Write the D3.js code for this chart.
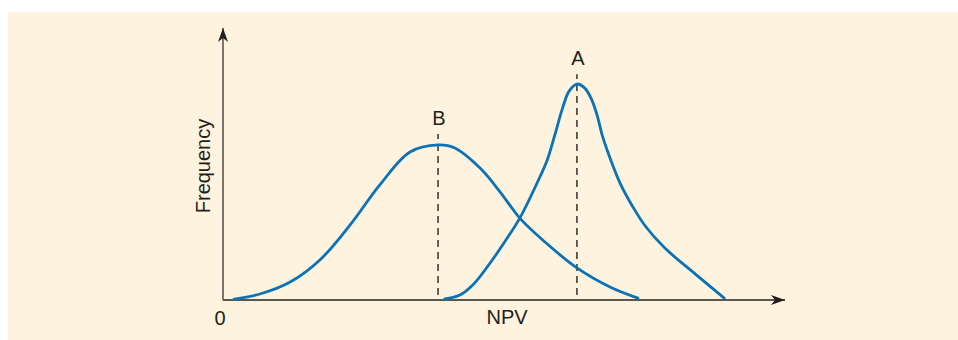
<!DOCTYPE html>
<html>
<head>
<meta charset="utf-8">
<script src="https://cdn.jsdelivr.net/npm/d3@7"></script>
<style>
  body { margin: 0; background: #ffffff; }
  svg { display: block; }
  text { font-family: "Liberation Sans", Arial, Helvetica, sans-serif; fill: #231f20; }
</style>
</head>
<body>
<div id="chart-area"></div>
<script>
// values (x: NPV 0..100, y: frequency 0..100)
var bNpv  = [2.0, 6.6, 12.0, 17.3, 22.7, 28.0, 33.4, 38.4, 41.4, 45.9, 49.5, 53.0, 57.5, 63.2, 69.1, 74.1];
var bFreq = [0.3, 2.2, 6.6, 14.7, 27.6, 42.3, 54.4, 57.0, 55.9, 48.5, 39.7, 30.1, 21.3, 11.8, 4.8, 0.7];

var aNpv  = [39.6, 42.3, 44.6, 47.7, 50.4, 53.0, 56.25, 57.9, 59.3, 60.7, 61.8, 63.2, 64.6, 65.7, 66.8, 67.7, 68.6, 70.9, 73.2, 75.4, 78.9, 84.3, 89.5];
var aFreq = [0.4, 1.8, 5.5, 13.6, 21.7, 30.1, 43.75, 51.5, 61.0, 71.0, 76.8, 79.4, 77.9, 74.3, 68.0, 60.7, 55.1, 43.0, 34.2, 27.2, 19.1, 9.6, 0.7];

var peakNames = ["B", "A"];
var peakNpv   = [38.4, 63.2];
var peakTop   = [61, 83];   // where the dashed line stops

var xTitle = "NPV";
var yTitle = "Frequency";
var originLabel = "0";

var width = 958, height = 340;

var svg = d3.select("#chart-area").append("svg").attr("width", width).attr("height", height);

svg.append("rect").attr("x", 8).attr("y", 12).attr("width", width - 8).attr("height", height - 12)
   .attr("fill", "#fdf3de");

var x = d3.scaleLinear().domain([0, 100]).range([223, 783]);
var y = d3.scaleLinear().domain([0, 100]).range([300, 28]);

var defs = svg.append("defs");
defs.append("marker").attr("id", "arrow").attr("viewBox", "0 0 14 10")
    .attr("refX", 14).attr("refY", 5).attr("markerWidth", 14).attr("markerHeight", 10)
    .attr("markerUnits", "userSpaceOnUse").attr("orient", "auto")
    .append("path").attr("d", "M0,0 L14,5 L0,10 L4,5 Z").attr("fill", "#231f20");

var axisColor = "#5b5650";

// axes
svg.append("line").attr("x1", x(0)).attr("y1", y(0)).attr("x2", x(0)).attr("y2", y(100))
   .attr("stroke", axisColor).attr("stroke-width", 1.6).attr("marker-end", "url(#arrow)");
svg.append("line").attr("x1", x(0)).attr("y1", y(0)).attr("x2", x(100) + 2).attr("y2", y(0))
   .attr("stroke", axisColor).attr("stroke-width", 1.8).attr("marker-end", "url(#arrow)");

// dashed lines at the peaks
peakNpv.forEach(function(p, i) {
    svg.append("line").attr("x1", x(p)).attr("x2", x(p)).attr("y1", y(1.8)).attr("y2", y(peakTop[i]))
       .attr("stroke", "#3f3c3a").attr("stroke-width", 1.6).attr("stroke-dasharray", "7,5");
    svg.append("text").attr("x", x(p) + 1).attr("y", y(peakTop[i]) - 9)
       .attr("text-anchor", "middle").attr("font-size", "20px").text(peakNames[i]);
});

var line = d3.line().x(function(d) { return x(d[0]); }).y(function(d) { return y(d[1]); })
             .curve(d3.curveCatmullRom.alpha(0.5));

[[bNpv, bFreq], [aNpv, aFreq]].forEach(function(s) {
    var pts = s[0].map(function(v, i) { return [v, s[1][i]]; });
    svg.append("path").datum(pts).attr("d", line).attr("fill", "none")
       .attr("stroke", "#0a72b8").attr("stroke-width", 2.8).attr("stroke-linecap", "round");
});

// labels
svg.append("text").attr("x", x(0) - 3).attr("y", 325).attr("text-anchor", "middle")
   .attr("font-size", "20px").text(originLabel);
svg.append("text").attr("x", 507).attr("y", 324).attr("text-anchor", "middle")
   .attr("font-size", "20px").text(xTitle);
svg.append("text").attr("transform", "translate(210,166) rotate(-90)").attr("text-anchor", "middle")
   .attr("font-size", "20px").text(yTitle);
</script>
</body>
</html>
